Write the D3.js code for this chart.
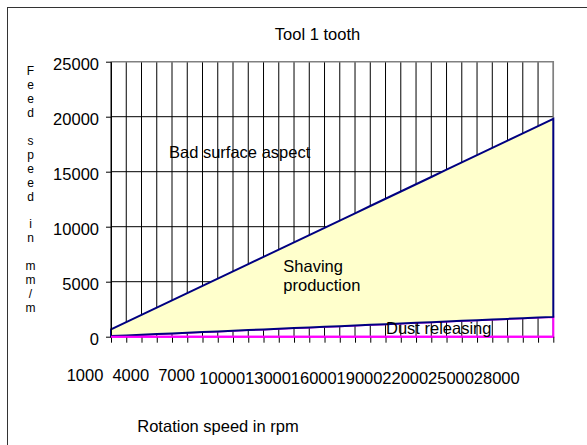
<!DOCTYPE html>
<html><head><meta charset="utf-8">
<script src="https://cdn.jsdelivr.net/npm/d3@7"></script>
<style>html,body{margin:0;padding:0;background:#fff;}svg{display:block;font-family:"Liberation Sans",Arial,sans-serif;}</style>
</head><body>
<svg id="c" width="587" height="445"></svg>
<script>
const rpm = [1000,2000,3000,4000,5000,6000,7000,8000,9000,10000,11000,12000,13000,14000,15000,16000,17000,18000,19000,20000,21000,22000,23000,24000,25000,26000,27000,28000,29000,30000];
const dustLimit = [60,120,180,240,300,360,420,480,540,600,660,720,780,840,900,960,1020,1080,1140,1200,1260,1320,1380,1440,1500,1560,1620,1680,1740,1800];
const surfaceLimit = [660,1320,1980,2640,3300,3960,4620,5280,5940,6600,7260,7920,8580,9240,9900,10560,11220,11880,12540,13200,13860,14520,15180,15840,16500,17160,17820,18480,19140,19800];
const yTicks = [0,5000,10000,15000,20000,25000];
const xTickLabels = [1000,4000,7000,10000,13000,16000,19000,22000,25000,28000];
const title = "Tool 1 tooth";
const yTitle = "Feed speed in mm/m";
const xTitle = "Rotation speed in rpm";
const regionLabels = [
  {lines:["Bad surface aspect"], rpm:5000, value:16800},
  {lines:["Shaving","production"], rpm:12000, value:6000},
  {lines:["Dust releasing"], rpm:19000, value:150}
];

const svg = d3.select("#c");
const L = 111, R = 553.3, T = 61.7, B = 336.7;
const x = d3.scaleLinear().domain([rpm[0], rpm[rpm.length-1]]).range([L, R]);
const y = d3.scaleLinear().domain([0, 25000]).range([B, T]);
const data = rpm.map((r,i)=>({r, lo:dustLimit[i], hi:surfaceLimit[i]}));

// outer border
svg.append("rect").attr("x",7.5).attr("y",7.5).attr("width",700).attr("height",700)
  .attr("fill","none").attr("stroke","#333").attr("stroke-width",1);

// title
svg.append("text").attr("x",317.5).attr("y",40).attr("text-anchor","middle")
  .attr("font-size",16.5).attr("fill","#000").text(title);

// vertical gridlines
svg.append("g").selectAll("line").data(rpm).join("line")
  .attr("x1",d=>x(d)).attr("x2",d=>x(d)).attr("y1",T).attr("y2",B)
  .attr("stroke","#000").attr("stroke-width",1);
// horizontal gridlines
svg.append("g").selectAll("line").data(yTicks.filter(v=>v>0&&v<25000)).join("line")
  .attr("x1",L).attr("x2",R).attr("y1",d=>y(d)).attr("y2",d=>y(d))
  .attr("stroke","#000").attr("stroke-width",1);
// plot border top/right grey
svg.append("path").attr("d",`M${L},${T}H${R}V${B}`).attr("fill","none")
  .attr("stroke","#808080").attr("stroke-width",1.5);

// areas
const shaving = d3.area().x(d=>x(d.r)).y0(d=>y(d.lo)).y1(d=>y(d.hi));
const dust = d3.area().x(d=>x(d.r)).y0(()=>y(0)).y1(d=>y(d.lo));
svg.append("path").datum(data).attr("d",dust).attr("fill","none")
  .attr("stroke","#ff00ff").attr("stroke-width",2);
svg.append("path").datum(data).attr("d",shaving).attr("fill","#ffffcc")
  .attr("stroke","#000080").attr("stroke-width",2).attr("stroke-linejoin","miter");

// axes
const yAxis = svg.append("g").attr("transform",`translate(${L},0)`)
  .call(d3.axisLeft(y).tickValues(yTicks).tickSize(5).tickSizeOuter(0).tickFormat(d3.format("d")));
yAxis.select(".domain").attr("stroke","#000");
yAxis.selectAll(".tick line").attr("stroke","#000");
yAxis.selectAll(".tick text").attr("font-size",16.5).attr("fill","#000")
  .attr("font-family","Liberation Sans, Arial, sans-serif").attr("x",-12).attr("dy","0.45em");

const xAxis = svg.append("g").attr("transform",`translate(0,${B})`)
  .call(d3.axisBottom(x).tickValues(rpm).tickSize(6).tickSizeOuter(0).tickFormat(""));
xAxis.select(".domain").remove();
xAxis.selectAll(".tick line").attr("stroke","#000");
// magenta zero line drawn over axis
svg.append("line").attr("x1",L).attr("x2",R).attr("y1",y(0)).attr("y2",y(0))
  .attr("stroke","#ff00ff").attr("stroke-width",2);

// x tick labels
svg.append("g").selectAll("text").data(xTickLabels).join("text")
  .attr("x",d=>x(d)-26).attr("y",d=>String(d).length>4?383.5:380.5)
  .attr("text-anchor","middle").attr("font-size",16.5).attr("fill","#000").text(d=>d);

// y title stacked letters
svg.append("g").selectAll("text").data(yTitle.split("")).join("text")
  .attr("x",30.5).attr("y",(d,i)=>75+i*13.95).attr("text-anchor","middle")
  .attr("font-size",12).attr("fill","#000").text(d=>d);

// x title
svg.append("text").attr("x",218).attr("y",432).attr("text-anchor","middle")
  .attr("font-size",16.5).attr("fill","#000").text(xTitle);

// region labels
const rl = svg.append("g");
rl.append("text").attr("x",169).attr("y",158.3).attr("font-size",16.5).text(regionLabels[0].lines[0]);
const sh = rl.append("text").attr("x",283.3).attr("y",271.7).attr("font-size",16.5);
regionLabels[1].lines.forEach((t,i)=>sh.append("tspan").attr("x",283.3).attr("dy",i?19:0).text(t));
rl.append("text").attr("x",386).attr("y",334).attr("font-size",16.5).text(regionLabels[2].lines[0]);
</script>
</body></html>
